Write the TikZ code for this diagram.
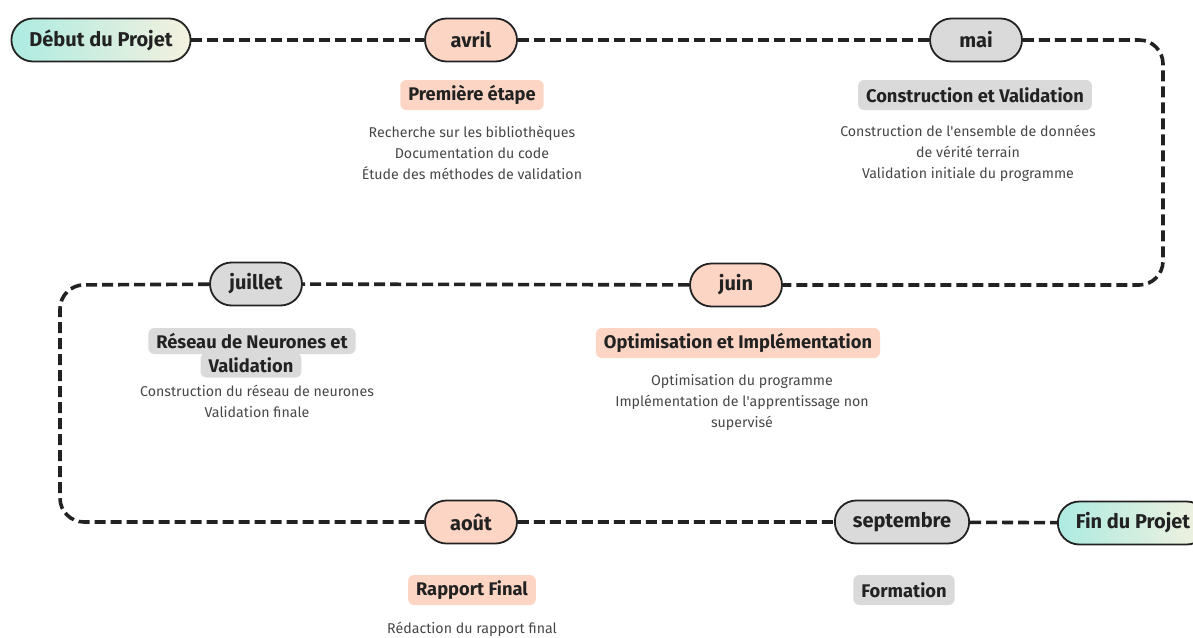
\documentclass[tikz,border=0pt]{standalone}
\usepackage{fontspec}
\setmainfont{Fira Sans}
\definecolor{peach}{HTML}{FDD5C5}
\definecolor{greybox}{HTML}{DADADA}
\definecolor{ink}{HTML}{222222}
\definecolor{grtxt}{HTML}{474747}
\definecolor{tealstart}{HTML}{ADEBE1}
\definecolor{creamend}{HTML}{F4F1DF}

\begin{document}
\begin{tikzpicture}[x=1pt,y=-1pt,
  month/.style={draw=ink,line width=1.8pt,rectangle,rounded corners=21.5pt,minimum height=43pt,
    minimum width=92pt,inner xsep=18pt,font=\fontsize{20}{24}\selectfont\bfseries,text=ink},
  endpt/.style={month,left color=tealstart,right color=creamend},
  titlebox/.style={rounded corners=6pt,minimum height=30pt,inner xsep=8pt,
    font=\fontsize{18.3}{22}\selectfont\bfseries,text=ink},
  desc/.style={align=center,font=\fontsize{14.2}{21}\selectfont,text=grtxt},
  link/.style={draw=ink,line width=3.6pt,dash pattern=on 11pt off 5pt,rounded corners=24pt}]
\useasboundingbox (0,0) rectangle (1193,637);
% ---------- milestones ----------
\node[endpt] (debut) at (101,40) {Début du Projet};
\foreach \nm/\x/\y/\col/\lab in {avril/471/40/peach/avril, mai/976/40/greybox/mai,
    juin/736/285/peach/juin, juillet/256/284/greybox/juillet,
    aout/471/522/peach/août, sept/902/522/greybox/septembre}
  \node[month,fill=\col] (\nm) at (\x,\y) {\lab};
\node[endpt] (fin) at (1133,523) {Fin du Projet};
% ---------- dashed timeline ----------
\coordinate (rtop) at (1163,40);
\coordinate (rbot) at (1163,285);
\coordinate (ltop) at (60,285);
\coordinate (lbot) at (60,522);
\path[link] (debut) -- (avril) -- (mai);
\path[link] (mai) -- (rtop) -- (rbot) -- (juin);
\path[link] (juin) -- (juillet);
\path[link] (juillet) -- (ltop) -- (lbot) -- (aout);
\path[link] (aout) -- (sept) -- (fin);
% ---------- step titles ----------
\node[titlebox,fill=peach] (t-avril) at (472,95) {Première étape};
\node[titlebox,fill=greybox] (t-mai) at (975,95) {Construction et Validation};
\node[titlebox,fill=greybox,minimum height=26pt] (t-juillet) at (252,341) {Réseau de Neurones et};
\node[titlebox,fill=greybox,minimum height=25pt] (t-juillet2) at (251,365) {Validation};
\node[titlebox,fill=peach] (t-juin) at (738,343) {Optimisation et Implémentation};
\node[titlebox,fill=peach] (t-aout) at (472,590) {Rapport Final};
\node[titlebox,fill=greybox] (t-sept) at (904,590) {Formation};
% ---------- descriptions ----------
\node[desc] (d-avril) at (472,153) {Recherche sur les bibliothèques\\Documentation du code\\Étude des méthodes de validation};
\node[desc] (d-mai) at (968,153) {Construction de l\textquotesingle ensemble de données\\de vérité terrain\\Validation initiale du programme};
\node[desc] (d-juillet) at (257,401) {Construction du réseau de neurones\\Validation finale};
\node[desc] (d-juin) at (742,402) {Optimisation du programme\\Implémentation de l\textquotesingle apprentissage non\\supervisé};
\node[desc] (d-aout) at (472,629) {Rédaction du rapport final};
\end{tikzpicture}
\end{document}
